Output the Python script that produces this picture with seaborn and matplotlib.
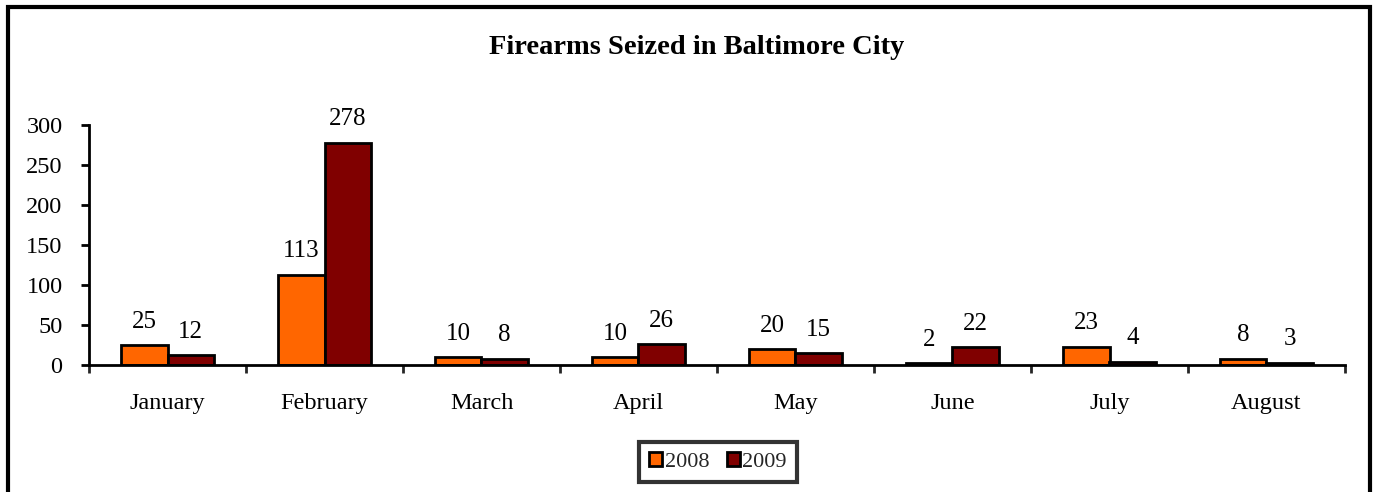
import matplotlib
matplotlib.use("Agg")
import matplotlib.pyplot as plt
import seaborn as sns
import pandas as pd
from matplotlib.patches import Rectangle, Patch

months = ["January", "February", "March", "April", "May", "June", "July", "August"]
years = ["2008", "2009"]
values_2008 = [25, 113, 10, 10, 20, 2, 23, 8]
values_2009 = [12, 278, 8, 26, 15, 22, 4, 3]
colors = ["#FF6600", "#800000"]

df = pd.DataFrame({
    "Month": months * 2,
    "Year": ["2008"] * len(months) + ["2009"] * len(months),
    "Value": values_2008 + values_2009,
})

sns.set_theme(style="white")
plt.rcParams["font.family"] = ["Liberation Serif", "DejaVu Serif"]

fig = plt.figure(figsize=(13.73, 4.92), dpi=100)
ax = fig.add_axes([89 / 1373, 1 - 365 / 492, (1345 - 89) / 1373, (365 - 125) / 492])

sns.barplot(data=df, x="Month", y="Value", hue="Year", hue_order=years,
            palette=colors, order=months, ax=ax, width=0.59,
            edgecolor="black", linewidth=2, saturation=1, legend=False)

for cont in ax.containers:
    ax.bar_label(cont, labels=[f"{int(v)}" for v in cont.datavalues],
                 padding=9, fontsize=18, color="black")

ax.set_ylim(0, 300)
ax.set_xlim(-0.5, len(months) - 0.5)
ax.set_yticks([0, 50, 100, 150, 200, 250, 300])
ax.set_xlabel("")
ax.set_ylabel("")
ax.tick_params(axis="y", labelsize=17.5, length=6, width=2, direction="out", left=True, pad=13, colors="black")
ax.set_xticks(range(len(months)))
ax.set_xticklabels(months)
ax.tick_params(axis="x", which="major", length=0, labelsize=17.5, pad=20, colors="black")
ax.set_xticks([i - 0.5 for i in range(len(months) + 1)], minor=True)
ax.tick_params(axis="x", which="minor", length=6, width=2, direction="out", bottom=True)

for s in ["top", "right"]:
    ax.spines[s].set_visible(False)
for s in ["left", "bottom"]:
    ax.spines[s].set_color("black")
    ax.spines[s].set_linewidth(2)

fig.text(697 / 1373, 1 - 48 / 492, "Firearms Seized in Baltimore City",
         ha="center", va="center", fontsize=20.5, fontweight="bold", color="black")

handles = [Patch(facecolor=colors[0], edgecolor="black", linewidth=2, label="2008"),
           Patch(facecolor=colors[1], edgecolor="black", linewidth=2, label="2009")]
leg = fig.legend(handles=handles, loc="center", bbox_to_anchor=(718 / 1373, 1 - 462 / 492),
                 ncol=2, fontsize=16, frameon=True, fancybox=False, handlelength=0.6,
                 handleheight=0.6, handletextpad=0.1, columnspacing=0.8, borderpad=0.45)
leg.get_frame().set_edgecolor("black")
leg.get_frame().set_linewidth(3)

fig.patches.append(Rectangle((8 / 1373, -0.05), (1370 - 8) / 1373, 1.05 - 7 / 492,
                             transform=fig.transFigure, fill=False, edgecolor="black",
                             linewidth=3, zorder=10))

fig.savefig("out.png", dpi=100, facecolor="white")
